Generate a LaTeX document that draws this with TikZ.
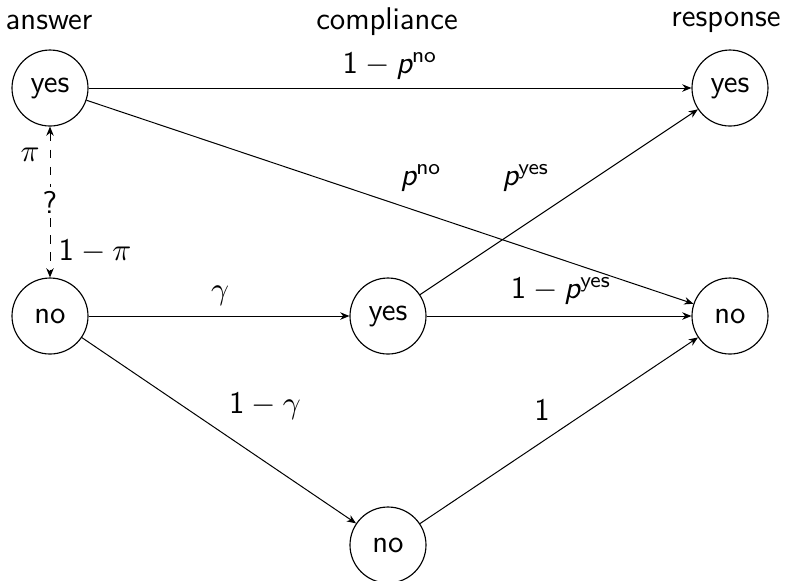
\documentclass[tikz,border=0pt]{standalone}
\usepackage{amsmath}
\renewcommand\familydefault{\sfdefault}
\usetikzlibrary{arrows.meta}
\newcommand\myp{\text{\sffamily\itshape p}}
\newcommand\mysup[1]{\text{\sffamily\upshape #1}}
\newcommand\myone{\text{\sffamily\upshape 1}}
\begin{document}
\begin{tikzpicture}[x=0.35pt,y=-0.35pt,
  state/.style={circle,draw,minimum size=26.6pt,inner sep=0pt},
  lbl/.style={inner sep=0pt},
  conn/.style={-{Stealth[length=3.2pt,width=2.6pt,inset=1pt]},line width=0.35pt},
  font=\fontsize{11}{13}\selectfont\sffamily]
\useasboundingbox (0,0) rectangle (786,580);
\node (hA) at (49,22) {answer};
\node (hC) at (387,22) {compliance};
\node (hR) at (726,22) {response};
\node[state] (ay) at (50,88) {yes};
\node[state] (an) at (50,316) {no};
\node[state] (cy) at (388,316) {yes};
\node[state] (cn) at (388,545) {no};
\node[state] (ry) at (730,88) {yes};
\node[state] (rn) at (730,316) {no};
\draw[conn] (ay) -- (ry);
\draw[conn] (ay) -- (rn);
\draw[conn] (cy) -- (ry);
\draw[conn] (cy) -- (rn);
\draw[conn] (an) -- (cy);
\draw[conn] (an) -- (cn);
\draw[conn] (cn) -- (rn);
\draw[conn,{Stealth[length=3.2pt,width=2.6pt,inset=1pt]}-{Stealth[length=3.2pt,width=2.6pt,inset=1pt]},dashed] (ay) -- node[fill=white,inner sep=1.5pt] (q) {?} (an);
\node[lbl] (l1) at (390,66) {$\myone-\myp^{\mysup{no}}$};
\node[lbl] (l2) at (421,178) {$\myp^{\mysup{no}}$};
\node[lbl] (l3) at (526,178) {$\myp^{\mysup{yes}}$};
\node[lbl] (l4) at (561,291) {$\myone-\myp^{\mysup{yes}}$};
\node[lbl] (l5) at (220,296) {$\gamma$};
\node[lbl] (l6) at (265,406) {$\myone-\gamma$};
\node[lbl] (l7) at (542,410) {$\myone$};
\node[lbl] (l8) at (30,155) {$\pi$};
\node[lbl] (l9) at (95,251) {$\myone-\pi$};
\end{tikzpicture}
\end{document}
